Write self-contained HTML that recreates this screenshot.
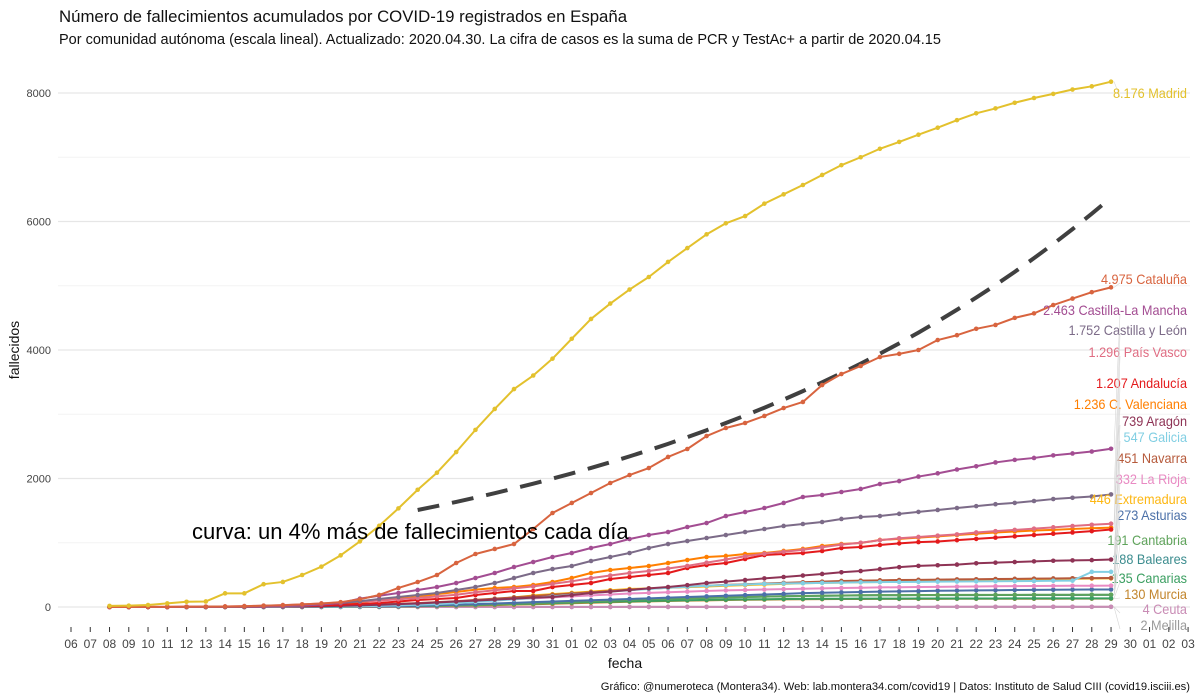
<!DOCTYPE html>
<html><head><meta charset="utf-8">
<style>
body{margin:0;background:#fff;}
svg{display:block;font-family:"Liberation Sans Narrow","Liberation Sans",sans-serif;}
</style></head>
<body>
<svg id="chart" width="1200" height="700">
<text x="59" y="22" font-size="16.8" fill="#111">Número de fallecimientos acumulados por COVID-19 registrados en España</text>
<text x="59" y="44" font-size="14.5" fill="#111">Por comunidad autónoma (escala lineal). Actualizado: 2020.04.30. La cifra de casos es la suma de PCR y TestAc+ a partir de 2020.04.15</text>
<text x="1190" y="690" font-size="11.2" fill="#111" text-anchor="end">Gráfico: @numeroteca (Montera34). Web: lab.montera34.com/covid19 | Datos: Instituto de Salud CIII (covid19.isciii.es)</text>
<text x="19" y="350" font-size="14" fill="#111" text-anchor="middle" transform="rotate(-90 19 350)">fallecidos</text>
<text x="625" y="668" font-size="14" fill="#111" text-anchor="middle">fecha</text>
<g id="grid"></g><g id="axes"></g><g id="lines"></g><g id="labels"></g>
<text x="192" y="539" font-size="22" fill="#000" style="font-family:'Liberation Sans',sans-serif">curva: un 4% más de fallecimientos cada día</text>
</svg>
<script>
const yTicks=[0,2000,4000,6000,8000];
const xTickLabels=["06","07","08","09","10","11","12","13","14","15","16","17","18","19","20","21","22","23","24","25","26","27","28","29","30","31","01","02","03","04","05","06","07","08","09","10","11","12","13","14","15","16","17","18","19","20","21","22","23","24","25","26","27","28","29","30","01","02","03"];
const regions=["Madrid","Cataluña","Castilla-La Mancha","Castilla y León","País Vasco","Andalucía","C. Valenciana","Aragón","Galicia","Navarra","La Rioja","Extremadura","Asturias","Cantabria","Baleares","Canarias","Murcia","Ceuta","Melilla"];
const madrid=[17,21,31,56,81,86,213,213,355,390,498,628,804,1021,1263,1535,1825,2090,2412,2757,3082,3392,3603,3865,4175,4483,4723,4941,5136,5371,5586,5800,5972,6084,6278,6423,6568,6724,6877,7000,7132,7239,7351,7460,7577,7684,7760,7848,7922,7986,8054,8104,8176];
const cataluna=[0,0,1,2,3,5,8,12,21,28,41,55,75,120,187,296,389,498,685,825,903,980,1214,1463,1619,1774,1930,2054,2163,2335,2459,2661,2786,2864,2973,3097,3191,3455,3626,3751,3891,3940,4000,4155,4230,4330,4390,4500,4570,4700,4800,4900,4975];
const clm=[0,0,0,0,1,2,3,7,10,15,26,39,63,130,175,218,265,311,373,451,529,622,700,778,840,918,980,1058,1120,1167,1245,1307,1416,1478,1541,1619,1712,1743,1790,1837,1914,1960,2030,2080,2140,2190,2250,2290,2320,2360,2390,2420,2463];
const cyl=[0,0,0,0,0,1,2,3,5,10,20,40,60,90,125,156,187,218,265,311,373,451,529,591,638,716,778,840,918,980,1027,1074,1120,1167,1214,1261,1292,1323,1370,1401,1416,1450,1480,1510,1540,1570,1600,1620,1650,1680,1700,1720,1752];
const paisVasco=[0,0,1,2,3,5,8,14,20,30,40,55,70,85,100,120,140,165,190,230,260,290,320,360,400,450,490,530,560,600,640,690,740,790,830,860,890,930,970,1000,1040,1070,1090,1110,1130,1160,1180,1200,1220,1240,1260,1280,1296];
const andalucia=[0,0,0,0,1,2,3,5,8,12,18,25,35,48,62,85,109,125,140,187,218,249,249,311,342,373,436,467,498,529,607,653,685,747,809,825,840,872,918,934,965,990,1010,1020,1040,1060,1080,1100,1120,1140,1160,1180,1207];
const valenciana=[0,0,0,0,1,2,3,5,8,13,20,30,50,75,109,130,156,200,233,270,296,311,342,389,451,529,576,607,638,685,731,778,794,825,840,872,903,949,980,996,1043,1060,1080,1100,1120,1140,1160,1175,1190,1200,1215,1225,1236];
const aragon=[0,0,0,0,0,0,1,2,3,5,8,12,18,25,35,45,55,70,85,100,115,130,145,156,185,218,240,265,290,311,340,373,395,420,445,467,490,514,540,560,590,620,640,650,660,680,690,700,710,720,725,730,739];
const galicia=[0,0,0,0,0,0,0,1,1,2,3,5,8,12,18,25,35,45,60,80,100,120,140,165,190,215,240,260,280,300,315,330,340,350,360,365,370,375,380,385,388,390,392,394,396,398,400,402,405,408,410,547,547];
const navarra=[0,0,0,0,0,1,2,3,5,7,10,15,20,30,40,50,60,75,90,110,130,150,170,190,210,230,250,270,285,300,315,330,345,355,365,375,385,395,405,410,415,420,423,426,429,432,435,438,441,444,447,449,451];
const larioja=[0,0,0,1,1,2,3,4,5,8,10,15,20,25,30,40,50,60,75,90,105,120,135,150,165,180,195,210,220,230,240,250,258,265,272,278,284,290,295,300,305,308,311,314,317,320,322,324,326,328,330,331,332];
const extremadura=[0,0,0,0,0,0,0,1,2,3,5,8,12,18,25,35,45,60,80,100,120,150,180,200,220,240,260,280,290,300,310,320,330,340,350,360,370,375,380,385,390,395,400,405,410,415,420,425,430,435,440,443,446];
const asturias=[0,0,0,0,0,0,0,0,1,1,2,3,5,7,10,14,20,27,35,45,55,65,75,85,95,105,115,125,135,145,155,165,175,185,195,205,215,222,228,234,240,244,248,252,255,258,261,264,266,268,270,272,273];
const cantabria=[0,0,0,0,0,0,0,0,0,1,1,2,3,5,7,10,14,19,25,32,40,50,60,70,80,90,100,110,120,128,135,142,150,156,162,167,172,176,179,182,184,185,186,187,188,188,189,189,190,190,190,191,191];
const baleares=[0,0,0,0,0,0,0,1,1,2,3,4,6,8,10,14,18,24,30,38,46,54,62,70,80,90,100,110,120,128,136,144,150,156,162,168,172,176,178,180,182,183,184,184,185,185,186,186,187,187,187,188,188];
const canarias=[0,0,0,0,0,0,1,1,1,2,3,4,5,7,9,12,15,20,25,30,38,45,52,60,68,75,82,88,94,100,105,110,114,118,121,124,126,128,129,130,131,131,132,132,133,133,133,134,134,134,135,135,135];
const murcia=[0,0,0,0,0,0,0,0,0,1,1,2,3,4,6,8,11,15,19,24,30,36,42,50,58,66,74,82,88,94,100,104,108,112,115,118,120,122,124,125,126,126,127,127,128,128,128,129,129,129,130,130,130];
const ceuta=[0,0,0,0,0,0,0,0,0,0,0,0,0,0,0,0,0,0,0,0,0,0,0,0,0,0,0,1,1,1,1,1,1,1,1,1,2,2,2,2,2,2,2,3,3,3,3,3,4,4,4,4,4];
const melilla=[0,0,0,0,0,0,0,0,0,0,0,0,0,0,0,0,0,0,0,0,0,0,1,1,1,1,1,1,1,1,1,1,1,2,2,2,2,2,2,2,2,2,2,2,2,2,2,2,2,2,2,2,2];
const curveStart=1510;
const curveGrowth=0.0408;

const series=[madrid,cataluna,clm,cyl,paisVasco,andalucia,valenciana,aragon,galicia,navarra,larioja,extremadura,asturias,cantabria,baleares,canarias,murcia,ceuta,melilla];
const colors=["#e3c12d","#d8643f","#a34d92","#7c6b88","#e06d83","#e41a1c","#ff7f00","#8e3355","#82cfe3","#b65a3b","#e98ac3","#fdb713","#4b70a8","#5fa35b","#3b8c8e","#3a9e60","#c2852c","#c98cb5","#9a9a9a"];
const labelY=[93,279,310,330,352,383,404,421,437,458,479,499,515,540,559,578,594,609,625];
const fmt=v=>String(v).replace(/\B(?=(\d{3})+(?!\d))/g,".");

const NS="http://www.w3.org/2000/svg";
const x=i=>71+19.26*i;
const xd=i=>x(i+2);
const y=v=>607-v*128.5/2000;
function mk(tag,attrs,parent){const e=document.createElementNS(NS,tag);for(const k in attrs)e.setAttribute(k,attrs[k]);parent.appendChild(e);return e;}
const grid=document.getElementById('grid'),axes=document.getElementById('axes'),lines=document.getElementById('lines'),labels=document.getElementById('labels');

for(let v=1000;v<8500;v+=2000){
  const g=mk('line',{x1:58,x2:1190,y1:y(v),y2:y(v),stroke:'#f3f3f3','stroke-width':1},grid);
  
  
}
yTicks.forEach(t=>{
  const g=mk('line',{x1:58,x2:1190,y1:y(t),y2:y(t),stroke:'#e6e6e6','stroke-width':1.2},grid);
  
  
  const tx=mk('text',{x:51,y:y(t)+4,'font-size':11,fill:'#444','text-anchor':'end'},axes);
  tx.textContent=t;
  
  
});
xTickLabels.forEach((l,i)=>{
  const tk=mk('line',{x1:x(i),x2:x(i),y1:627,y2:632,stroke:'#333','stroke-width':1},axes);
  
  
  const tx=mk('text',{x:x(i),y:648,'font-size':12,fill:'#444','text-anchor':'middle'},axes);
  tx.textContent=l;
  
  
});

let cpts=[];
for(let k=0;k<=36;k++)cpts.push(xd(16+k)+','+y(curveStart*Math.pow(1+curveGrowth,k)));
const cv=mk('polyline',{points:cpts.join(' '),fill:'none',stroke:'#404040','stroke-width':4,'stroke-dasharray':'22,13'},lines);



for(let s=series.length-1;s>=0;s--){
  const d=series[s];
  const p=mk('polyline',{points:d.map((v,i)=>xd(i)+','+y(v)).join(' '),fill:'none',stroke:colors[s],'stroke-width':2,'stroke-linejoin':'round'},lines);
  
  
  d.forEach((v,i)=>{
    const c=mk('circle',{cx:xd(i),cy:y(v),r:2.3,fill:colors[s]},lines);
    
    
  });
  const last=d.length-1;
  const ly=labelY[s];
  const ld=mk('line',{x1:xd(last)+3,y1:y(d[last]),x2:1120,y2:ly+4,stroke:'#d6d6d6','stroke-width':0.6},labels);
  
  
  const t=mk('text',{x:0,y:0,'font-size':13.5,fill:colors[s],'text-anchor':'end',transform:'translate(1187,'+(ly+5)+') scale(0.94,1)'},labels);
  t.textContent=fmt(d[last])+' '+regions[s];
  
  
}
</script>
</body></html>
